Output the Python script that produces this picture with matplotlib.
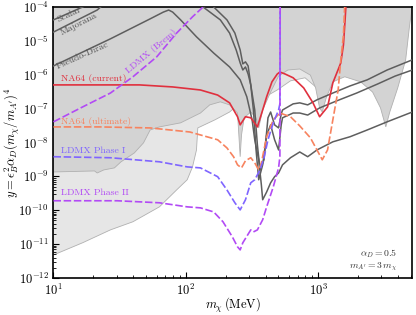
import numpy as np
import matplotlib
matplotlib.use("Agg")
import matplotlib.pyplot as plt

plt.rcParams['font.family'] = 'serif'
plt.rcParams['font.serif'] = ['cmr10', 'DejaVu Serif']
plt.rcParams['mathtext.fontset'] = 'cm'
plt.rcParams['axes.formatter.use_mathtext'] = True

# ---- data (log10 of m_chi [MeV], log10 of y) ----
dark_logm = [1.00, 1.31, 1.33, 1.38, 1.46, 1.51, 1.61, 1.68, 1.73, 1.80, 1.96, 2.11, 2.18,
             2.26, 2.33, 2.39, 2.40, 2.41, 2.42, 2.44, 2.49, 2.53, 2.55, 2.58, 2.64, 2.70,
             2.77, 2.86, 2.94, 2.98, 3.01, 3.03, 3.06, 3.11, 3.20, 3.32, 3.41, 3.47, 3.51,
             3.54, 3.60, 3.66, 3.69, 3.71]
dark_logy = [-8.87, -8.84, -8.90, -8.81, -8.75, -8.57, -8.31, -8.01, -7.63, -7.54, -7.42, -7.13, -6.89,
             -6.80, -6.89, -7.13, -7.78, -8.42, -7.78, -7.27, -7.10, -7.27, -7.57, -7.04, -6.51, -6.04,
             -5.86, -5.83, -6.01, -6.39, -6.98, -7.10, -6.68, -6.21, -6.06, -6.21, -6.51, -6.98, -7.54,
             -7.10, -6.39, -5.56, -4.53, -4.00]

light_logm = [1.00, 1.22, 1.43, 1.60, 1.80, 1.93, 2.01, 2.05, 2.08, 2.09, 2.22, 2.33, 2.41,
              2.51, 2.60, 2.69, 2.79, 2.90, 2.99]
light_logy = [-11.32, -10.96, -10.58, -10.34, -9.90, -9.40, -9.10, -8.72, -8.22, -7.57, -7.33, -7.10, -6.83,
              -6.86, -6.65, -6.45, -6.18, -6.09, -6.39]

scalar_logm = [1.00, 1.22, 1.58, 2.03, 2.13, 2.26, 2.33, 2.38, 2.41, 2.43, 2.45, 2.47, 2.49, 2.51,
               2.53, 2.55, 2.58, 2.61, 2.64, 2.67, 2.70, 2.72, 2.73, 2.81, 2.86, 2.92, 3.01, 3.14,
               3.29, 3.45, 3.58, 3.71]
scalar_logy = [-4.38, -4.00, -3.35, -3.44, -4.00, -4.38, -4.77, -5.27, -5.65, -5.86, -5.77, -5.98, -6.30, -7.04,
               -8.22, -9.10, -8.66, -7.78, -7.48, -7.92, -8.22, -7.48, -7.27, -7.13, -7.13, -7.19, -6.98, -6.77,
               -6.54, -6.27, -6.04, -5.86]

majorana_logm = [1.00, 1.33, 1.50, 2.11, 2.21, 2.31, 2.37, 2.41, 2.43, 2.45, 2.47, 2.49, 2.52, 2.54,
                 2.56, 2.59, 2.62, 2.64, 2.67, 2.70, 2.72, 2.73, 2.81, 2.86, 2.92, 2.99, 3.11, 3.24,
                 3.37, 3.52, 3.71]
majorana_logy = [-4.74, -4.09, -3.50, -3.50, -4.00, -4.38, -4.77, -5.27, -5.68, -5.62, -5.74, -6.30, -7.04, -8.07,
                 -8.81, -8.51, -7.27, -7.10, -7.48, -7.57, -7.16, -7.04, -6.86, -6.83, -6.89, -6.74, -6.54, -6.33,
                 -6.15, -5.86, -5.56]

pdirac_logm = [1.00, 1.43, 1.73, 1.83, 1.87, 1.90, 1.96, 2.08, 2.21, 2.33, 2.41, 2.46, 2.50, 2.52,
               2.55, 2.57, 2.58, 2.61, 2.64, 2.67, 2.70, 2.73, 2.79, 2.86, 2.92, 2.99, 3.11, 3.24,
               3.37, 3.52, 3.71]
pdirac_logy = [-5.74, -4.94, -4.35, -4.15, -4.09, -4.15, -4.38, -4.88, -5.36, -5.77, -6.15, -6.65, -7.33, -7.92,
               -8.51, -9.25, -9.69, -9.46, -9.19, -9.01, -8.90, -8.66, -8.45, -8.28, -8.42, -8.22, -7.98, -7.83,
               -7.63, -7.39, -7.10]

na64_cur_logm = [1.00, 1.35, 1.65, 1.90, 2.11, 2.24, 2.33, 2.39, 2.41, 2.45, 2.49, 2.54, 2.58, 2.61,
                 2.65, 2.69, 2.71, 2.75, 2.81, 2.89, 2.96, 3.01, 3.07, 3.11, 3.17, 3.19, 3.20, 3.21]
na64_cur_logy = [-6.30, -6.30, -6.30, -6.36, -6.45, -6.60, -6.83, -7.24, -7.48, -7.24, -7.27, -7.54, -7.04, -6.65,
                 -6.21, -5.98, -5.92, -5.98, -6.09, -6.39, -6.83, -7.24, -6.95, -6.24, -5.65, -5.12, -4.53, -3.90]

na64_ult_logm = [1.00, 1.35, 1.73, 2.03, 2.24, 2.31, 2.36, 2.39, 2.42, 2.45, 2.49, 2.52, 2.55, 2.57,
                 2.61, 2.66, 2.71, 2.79, 2.86, 2.94, 2.99, 3.03, 3.07, 3.11, 3.15, 3.17, 3.19, 3.20]
na64_ult_logy = [-7.54, -7.54, -7.57, -7.69, -7.92, -8.16, -8.42, -8.66, -8.75, -8.54, -8.45, -8.60, -8.81, -8.60,
                 -7.83, -7.33, -7.13, -7.24, -7.51, -7.86, -8.22, -8.51, -8.22, -7.33, -6.45, -5.56, -4.83, -3.90]

ldmx1_logm = [1.00, 1.43, 1.80, 2.01, 2.11, 2.24, 2.31, 2.37, 2.41, 2.45, 2.49, 2.52, 2.56, 2.59,
              2.62, 2.66, 2.70, 2.71, 2.712]
ldmx1_logy = [-8.42, -8.45, -8.57, -8.72, -8.75, -9.01, -9.40, -9.78, -9.99, -9.69, -9.19, -9.10, -8.81, -8.45,
              -7.92, -7.42, -7.04, -6.86, -3.90]

ldmx2_logm = [1.00, 1.48, 1.80, 2.01, 2.11, 2.21, 2.28, 2.35, 2.39, 2.41, 2.43, 2.49, 2.51, 2.54,
              2.58, 2.61, 2.66, 2.70, 2.71, 2.712]
ldmx2_logy = [-9.72, -9.72, -9.78, -9.90, -9.93, -10.05, -10.34, -10.78, -11.08, -11.17, -10.96, -10.58, -10.64, -10.58,
              -10.28, -9.90, -9.31, -8.75, -8.42, -3.90]

brem_logm = [1.00, 1.22, 1.43, 1.60, 1.78, 1.93, 2.05, 2.13, 2.18]
brem_logy = [-7.39, -6.95, -6.54, -6.06, -5.47, -4.77, -4.29, -4.00, -3.79]

C_RED = '#e0303e'
C_SALMON = '#f7835f'
C_BLUE = '#7f65ff'
C_PURPLE = '#b24af5'
C_GRAY = '#5e5e5e'


def pw(a):
    return 10 ** np.asarray(a)


fig = plt.figure(figsize=(4.16, 3.15), dpi=100)
ax = fig.add_axes([0.1286, 0.1175, 0.8617, 0.8603])

# shaded constraints
lx = light_logm + [light_logm[-1], 1.0]
ly = light_logy + [-3.9, -3.9]
ax.fill(pw(lx), pw(ly), facecolor='#e6e6e6', edgecolor='#b0b0b0', lw=0.6, zorder=1)
dx = dark_logm + [3.71, 1.0]
dy = dark_logy + [-3.9, -3.9]
ax.fill(pw(dx), pw(dy), facecolor='#d3d3d3', edgecolor='#b0b0b0', lw=0.6, zorder=2)

# thermal targets
for lm, lyy in [(scalar_logm, scalar_logy), (majorana_logm, majorana_logy),
                (pdirac_logm, pdirac_logy)]:
    ax.plot(pw(lm), pw(lyy), color=C_GRAY, lw=1.1, zorder=3)

dash = (0, (4.5, 1.6))
ax.plot(pw(na64_cur_logm), pw(na64_cur_logy), color=C_RED, lw=1.2, zorder=4)
ax.plot(pw(na64_ult_logm), pw(na64_ult_logy), color=C_SALMON, lw=1.2, ls=dash, zorder=4)
ax.plot(pw(ldmx1_logm), pw(ldmx1_logy), color=C_BLUE, lw=1.2, ls=dash, zorder=4)
ax.plot(pw(ldmx2_logm), pw(ldmx2_logy), color=C_PURPLE, lw=1.2, ls=dash, zorder=5)
ax.plot(pw(brem_logm), pw(brem_logy), color=C_PURPLE, lw=1.2, ls=dash, zorder=5)

# labels
fs = 7
ax.text(10**1.12, 10**-4.21, 'Scalar', color='#555555', fontsize=fs, rotation=25,
        ha='center', va='center')
ax.text(10**1.19, 10**-4.50, 'Majorana', color='#555555', fontsize=fs, rotation=27,
        ha='center', va='center')
ax.text(10**1.22, 10**-5.42, 'Pseudo-Dirac', color='#555555', fontsize=fs, rotation=24,
        ha='center', va='center')
ax.text(10**1.74, 10**-5.30, 'LDMX (Brem)', color=C_PURPLE, fontsize=fs, rotation=40,
        ha='center', va='center')
ax.text(10**1.057, 10**-6.12, 'NA64 (current)', color=C_RED, fontsize=fs, ha='left', va='center')
ax.text(10**1.057, 10**-7.39, 'NA64 (ultimate)', color=C_SALMON, fontsize=fs, ha='left', va='center')
ax.text(10**1.057, 10**-8.25, 'LDMX Phase I', color=C_BLUE, fontsize=fs, ha='left', va='center')
ax.text(10**1.06, 10**-9.49, 'LDMX Phase II', color=C_PURPLE, fontsize=fs, ha='left', va='center')

ax.text(0.96, 0.089, r'$\alpha_D = 0.5$', transform=ax.transAxes, fontsize=fs,
        ha='right', va='center', color='#333333')
ax.text(0.96, 0.041, r"$m_{A'} = 3\,m_\chi$", transform=ax.transAxes, fontsize=fs,
        ha='right', va='center', color='#333333')

ax.set_xscale('log')
ax.set_yscale('log')
ax.set_xlim(10, 5100)
ax.set_ylim(1e-12, 1e-4)
ax.set_xlabel(r'$m_\chi\,(\mathrm{MeV})$', fontsize=9, va='center')
ax.set_ylabel(r"$y = \epsilon_B^2\alpha_D(m_\chi/m_{A'})^4$", fontsize=9, va='center')
ax.xaxis.set_label_coords(0.5, -0.10)
ax.yaxis.set_label_coords(-0.114, 0.5)
ax.tick_params(which='both', direction='in', labelsize=9)
ax.tick_params(which='major', length=4, width=0.8)
ax.tick_params(which='minor', length=2, width=0.6)
ax.yaxis.set_major_locator(matplotlib.ticker.LogLocator(base=10, numticks=20))
ax.yaxis.set_minor_locator(matplotlib.ticker.LogLocator(base=10, subs=np.arange(2, 10), numticks=20))
for s in ax.spines.values():
    s.set_linewidth(1.2)

fig.savefig('out.png', dpi=100)
